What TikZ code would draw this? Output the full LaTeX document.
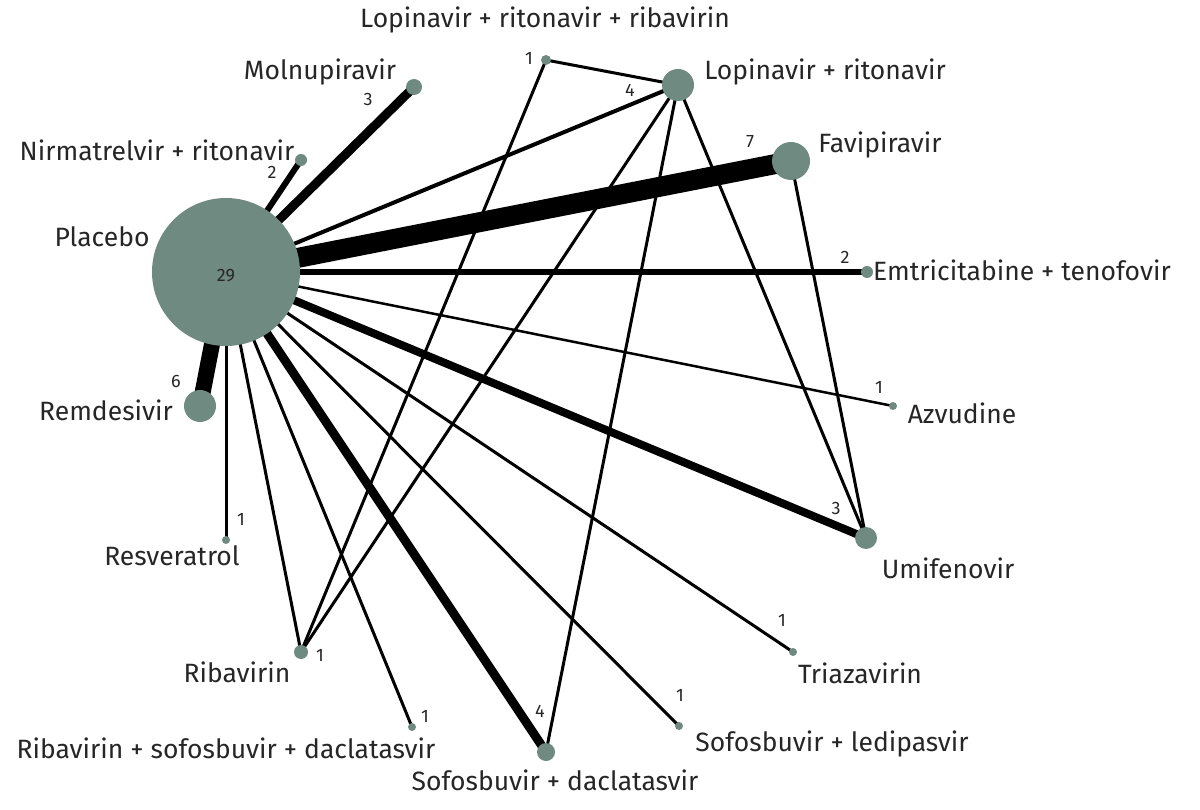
\documentclass[tikz,border=0pt]{standalone}
\usepackage{fontspec}
\setmainfont{Fira Sans}
\begin{document}
\begin{tikzpicture}[x=1pt,y=-1pt,
  nd/.style={circle,fill=nodecol,inner sep=0pt,minimum size=#1},
  ed/.style={line width=#1,black},
  lab/.style={font=\fontsize{26.5}{28}\selectfont,text=black!85},
  num/.style={font=\fontsize{18}{20}\selectfont,text=black!85}]
\definecolor{nodecol}{HTML}{6F8A80}
\useasboundingbox (0,0) rectangle (1200,810);
\coordinate (P) at (226,272);
\coordinate (Mo) at (414,87);
\coordinate (Ni) at (301,160);
\coordinate (LRR) at (546,60);
\coordinate (LR) at (678,85);
\coordinate (Fa) at (791,161);
\coordinate (Em) at (867,272);
\coordinate (Az) at (893,406);
\coordinate (Um) at (866,538);
\coordinate (Tr) at (793,652);
\coordinate (SL) at (679,726);
\coordinate (SD) at (546,752);
\coordinate (RSD) at (412,727);
\coordinate (Ri) at (301,652);
\coordinate (Re) at (226,540);
\coordinate (Rm) at (200,406);
% edges
\draw[ed=9] (P)--(Mo);
\draw[ed=6] (P)--(Ni);
\draw[ed=4] (P)--(LR);
\draw[ed=20] (P)--(Fa);
\draw[ed=6] (P)--(Em);
\draw[ed=2.5] (P)--(Az);
\draw[ed=8] (P)--(Um);
\draw[ed=3] (P)--(Tr);
\draw[ed=3] (P)--(SL);
\draw[ed=9] (P)--(SD);
\draw[ed=3] (P)--(RSD);
\draw[ed=3] (P)--(Ri);
\draw[ed=3] (P)--(Re);
\draw[ed=16] (P)--(Rm);
\draw[ed=3] (LRR)--(LR);
\draw[ed=3] (LRR)--(Ri);
\draw[ed=3] (LR)--(Ri);
\draw[ed=3] (LR)--(SD);
\draw[ed=3] (LR)--(Um);
\draw[ed=3] (Fa)--(Um);
% nodes
\node[nd=148pt] (nP) at (P) {};
\node[nd=16pt] (nMo) at (Mo) {};
\node[nd=12pt] (nNi) at (Ni) {};
\node[nd=10pt] (nLRR) at (LRR) {};
\node[nd=32pt] (nLR) at (LR) {};
\node[nd=38pt] (nFa) at (Fa) {};
\node[nd=12pt] (nEm) at (Em) {};
\node[nd=8pt] (nAz) at (Az) {};
\node[nd=22pt] (nUm) at (Um) {};
\node[nd=8pt] (nTr) at (Tr) {};
\node[nd=8pt] (nSL) at (SL) {};
\node[nd=18pt] (nSD) at (SD) {};
\node[nd=8pt] (nRSD) at (RSD) {};
\node[nd=14pt] (nRi) at (Ri) {};
\node[nd=8pt] (nRe) at (Re) {};
\node[nd=32pt] (nRm) at (Rm) {};
% labels
\node[lab] (lP) at (102,237) {Placebo};
\node[lab] (lMo) at (320,72) {Molnupiravir};
\node[lab] (lNi) at (157,150) {Nirmatrelvir + ritonavir};
\node[lab] (lLRR) at (545,20) {Lopinavir + ritonavir + ribavirin};
\node[lab] (lLR) at (825,72) {Lopinavir + ritonavir};
\node[lab] (lFa) at (880,145) {Favipiravir};
\node[lab] (lEm) at (1022,270) {Emtricitabine + tenofovir};
\node[lab] (lAz) at (962,413) {Azvudine};
\node[lab] (lUm) at (948,568) {Umifenovir};
\node[lab] (lTr) at (860,673) {Triazavirin};
\node[lab] (lSL) at (832,744) {Sofosbuvir + ledipasvir};
\node[lab] (lSD) at (555,780) {Sofosbuvir + daclatasvir};
\node[lab] (lRSD) at (226,748) {Ribavirin + sofosbuvir + daclatasvir};
\node[lab] (lRi) at (237,672) {Ribavirin};
\node[lab] (lRe) at (172,556) {Resveratrol};
\node[lab] (lRm) at (106,410) {Remdesivir};
% numbers
\node[num] (cP) at (226,276) {29};
\node[num] (cMo) at (368,100) {3};
\node[num] (cNi) at (272,172) {2};
\node[num] (cLRR) at (529,58) {1};
\node[num] (cLR) at (630,90) {4};
\node[num] (cFa) at (750,142) {7};
\node[num] (cEm) at (845,257) {2};
\node[num] (cAz) at (879,387) {1};
\node[num] (cUm) at (836,508) {3};
\node[num] (cTr) at (782,620) {1};
\node[num] (cSL) at (680,695) {1};
\node[num] (cSD) at (540,711) {4};
\node[num] (cRSD) at (425,716) {1};
\node[num] (cRi) at (320,655) {1};
\node[num] (cRe) at (241,519) {1};
\node[num] (cRm) at (176,381) {6};
\end{tikzpicture}
\end{document}
